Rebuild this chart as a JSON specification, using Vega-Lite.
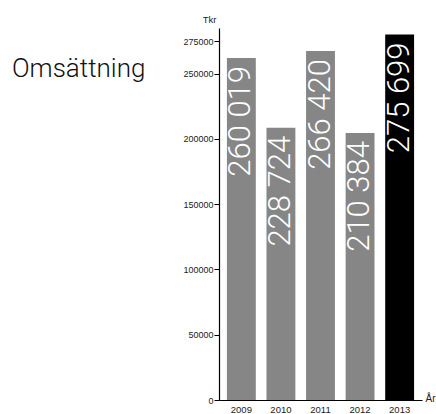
{
  "$schema": "https://vega.github.io/schema/vega-lite/v6.json",
  "autosize": "none",
  "width": 203,
  "height": 372,
  "padding": {"left": 219, "top": 28, "right": 14, "bottom": 14},
  "background": "white",
  "title": {
    "text": "Omsättning",
    "anchor": "start",
    "orient": "top",
    "frame": "group",
    "font": "Roboto",
    "fontWeight": 300,
    "fontSize": 26,
    "color": "#111111",
    "baseline": "alphabetic",
    "offset": 0,
    "dx": -207,
    "dy": 89
  },
  "config": {
    "view": {"stroke": null},
    "axis": {"labelFont": "Liberation Sans", "titleFont": "Liberation Sans", "grid": false}
  },
  "data": {
    "values": [
      {"year": "2009", "value": 262000, "label": "260 019"},
      {"year": "2010", "value": 208500, "label": "228 724"},
      {"year": "2011", "value": 267300, "label": "266 420"},
      {"year": "2012", "value": 204500, "label": "210 384"},
      {"year": "2013", "value": 280000, "label": "275 699"}
    ]
  },
  "encoding": {
    "x": {
      "field": "year",
      "type": "nominal",
      "scale": {"paddingInner": 0.27, "paddingOuter": 0.2},
      "axis": {
        "title": "År",
        "titleFontSize": 10,
        "titleFontWeight": "normal",
        "titleColor": "#222222",
        "titleAlign": "left",
        "titleBaseline": "alphabetic",
        "titleAnchor": null,
        "titleX": 206,
        "titleY": 1,
        "labelAngle": 0,
        "labelFontSize": 9.5,
        "labelColor": "#222222",
        "labelPadding": 4,
        "labelBaseline": "top",
        "ticks": false,
        "domainColor": "#000000",
        "domainWidth": 1.2
      }
    },
    "y": {
      "field": "value",
      "type": "quantitative",
      "scale": {"domain": [0, 285000], "nice": false, "zero": true},
      "axis": {
        "title": "Tkr",
        "titleFontSize": 9.5,
        "titleFontWeight": "normal",
        "titleColor": "#222222",
        "titleAngle": 0,
        "titleAlign": "right",
        "titleBaseline": "alphabetic",
        "titleAnchor": null,
        "titleX": -3,
        "titleY": -6,
        "values": [0, 50000, 100000, 150000, 200000, 250000, 275000],
        "format": "d",
        "labelFontSize": 9,
        "labelColor": "#222222",
        "labelPadding": 1,
        "tickSize": 5,
        "tickColor": "#000000",
        "domainColor": "#000000",
        "domainWidth": 1.2
      }
    }
  },
  "layer": [
    {
      "mark": {"type": "bar"},
      "encoding": {
        "color": {
          "field": "year",
          "type": "nominal",
          "scale": {
            "domain": ["2009", "2010", "2011", "2012", "2013"],
            "range": ["#868686", "#868686", "#868686", "#868686", "#000000"]
          },
          "legend": null
        }
      }
    },
    {
      "mark": {
        "type": "text",
        "angle": 270,
        "align": "right",
        "baseline": "middle",
        "dx": -8,
        "font": "Roboto",
        "fontWeight": 300,
        "fontSize": 31,
        "color": "#ffffff"
      },
      "encoding": {
        "text": {"field": "label", "type": "nominal"}
      }
    }
  ]
}
